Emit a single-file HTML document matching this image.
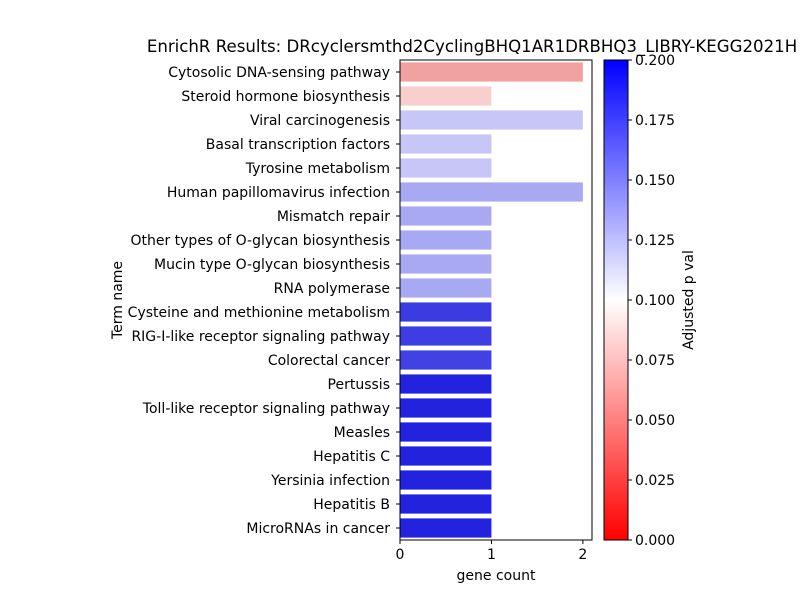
<!DOCTYPE html>
<html><head><meta charset="utf-8"><style>
body{margin:0;background:#fff;font-family:"DejaVu Sans","Liberation Sans",sans-serif;}
svg text{font-family:"DejaVu Sans","Liberation Sans",sans-serif;}
</style></head><body>
<svg id="chart" width="800" height="600" xmlns="http://www.w3.org/2000/svg">
<rect width="800" height="600" fill="#fff"/>
<text x="472" y="52" font-size="16.6" text-anchor="middle">EnrichR Results: DRcyclersmthd2CyclingBHQ1AR1DRBHQ3_LIBRY-KEGG2021H</text>
<g id="bars"></g>
<g id="yticks"></g>
<g id="xticks"></g>
<defs><linearGradient id="cbar" x1="0" y1="1" x2="0" y2="0">
<stop offset="0" stop-color="#ff0000"/><stop offset="0.5" stop-color="#ffffff"/><stop offset="1" stop-color="#0000ff"/></linearGradient></defs>
<rect x="604" y="60" width="24" height="480" fill="url(#cbar)" stroke="#000" stroke-width="1"/>
<g id="cticks"></g>
<rect x="400" y="60" width="192" height="480" fill="none" stroke="#000" stroke-width="1"/>
<text x="496" y="580" font-size="14" text-anchor="middle">gene count</text>
<text transform="translate(122,300) rotate(-90)" font-size="14" text-anchor="middle">Term name</text>
<text transform="translate(693,300) rotate(-90)" font-size="14" text-anchor="middle">Adjusted p val</text>
</svg>
<script>
const terms=["Cytosolic DNA-sensing pathway","Steroid hormone biosynthesis","Viral carcinogenesis","Basal transcription factors","Tyrosine metabolism","Human papillomavirus infection","Mismatch repair","Other types of O-glycan biosynthesis","Mucin type O-glycan biosynthesis","RNA polymerase","Cysteine and methionine metabolism","RIG-I-like receptor signaling pathway","Colorectal cancer","Pertussis","Toll-like receptor signaling pathway","Measles","Hepatitis C","Yersinia infection","Hepatitis B","MicroRNAs in cancer"];
const counts=[2,1,2,1,1,2,1,1,1,1,1,1,1,1,1,1,1,1,1,1];
const pvals=[0.058,0.078,0.125,0.125,0.125,0.139,0.139,0.139,0.139,0.139,0.188,0.187,0.185,0.199,0.199,0.199,0.199,0.199,0.199,0.199];
const xTicks=[0,1,2];
const cTicks=[0,0.025,0.05,0.075,0.1,0.125,0.15,0.175,0.2];
const NS="http://www.w3.org/2000/svg";
const X0=400,X1=592,XMAX=2.1,Y0=60,Y1=540,PMAX=0.2;
const sx=v=>X0+v*(X1-X0)/XMAX;
const slot=(Y1-Y0)/terms.length;
const sy=i=>Y0+slot*(i+0.5);
const cy=v=>Y1-v/PMAX*(Y1-Y0);
function rawCol(p){const t=Math.max(0,Math.min(1,p/PMAX));let r,g,b;
 if(t<0.5){r=255;g=b=255*t*2;}else{b=255;r=g=255*(1-t)*2;}return [r/255,g/255,b/255];}
function desat(c,f){const mx=Math.max(...c),mn=Math.min(...c),l=(mx+mn)/2;
 if(mx===mn)return c;const d=mx-mn;const s=l>0.5?d/(2-mx-mn):d/(mx+mn);
 const s2=s*f;const C=s2*(1-Math.abs(2*l-1));const nmx=l+C/2,nmn=l-C/2;
 return c.map(v=>nmn+(v-mn)/d*(nmx-nmn));}
function col(p){const c=desat(rawCol(p),0.75).map(v=>Math.round(v*255));return `rgb(${c[0]},${c[1]},${c[2]})`;}
function mk(tag,a,par){const e=document.createElementNS(NS,tag);for(const k in a)e.setAttribute(k,a[k]);document.getElementById(par).appendChild(e);return e;}
terms.forEach((t,i)=>{
 const r=mk('rect',{x:sx(0),y:sy(i)-slot*0.4,width:sx(counts[i])-sx(0),height:slot*0.8,fill:col(pvals[i])},'bars');
 
 
 const l=mk('line',{x1:X0-4,x2:X0,y1:sy(i),y2:sy(i),stroke:'#000'},'yticks');
 
 
 const tx=mk('text',{x:X0-10,y:sy(i)+5,'font-size':14,'text-anchor':'end'},'yticks');
 tx.textContent=t;
 
 
});
xTicks.forEach(v=>{
 const l=mk('line',{x1:sx(v),x2:sx(v),y1:Y1,y2:Y1+4,stroke:'#000'},'xticks');
 
 
 const tx=mk('text',{x:sx(v),y:Y1+19,'font-size':14,'text-anchor':'middle'},'xticks');
 tx.textContent=v;
 
 
});
cTicks.forEach(v=>{
 const l=mk('line',{x1:628,x2:632,y1:cy(v),y2:cy(v),stroke:'#000'},'cticks');
 
 
 const tx=mk('text',{x:635,y:cy(v)+5,'font-size':14},'cticks');
 tx.textContent=v.toFixed(3);
 
 
});
</script>
</body></html>
